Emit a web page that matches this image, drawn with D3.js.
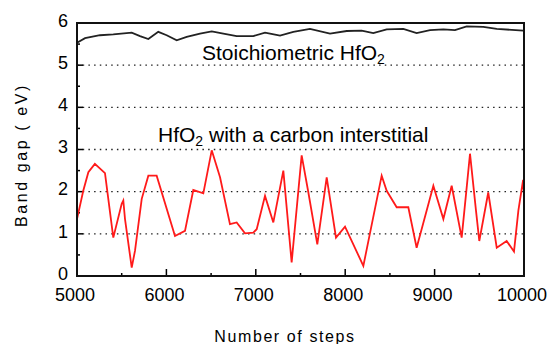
<!DOCTYPE html>
<html>
<head>
<meta charset="utf-8">
<script src="https://cdn.jsdelivr.net/npm/d3@7"></script>
<style>
  html, body { margin: 0; padding: 0; background: #fff; }
  svg { display: block; font-family: "Liberation Sans", Arial, sans-serif; }
</style>
</head>
<body>
<div id="chart"></div>
<script>
// Stoichiometric HfO2 band gap
const stoichSteps = [5000, 5090, 5257, 5406, 5612, 5705, 5798, 5909, 6003, 6115, 6227, 6376, 6507, 6637, 6786, 6972, 7103, 7159, 7271, 7420, 7606, 7830, 8017, 8184, 8314, 8464, 8650, 8799, 8949, 9098, 9228, 9359, 9545, 9695, 9992, 10000];
const stoichGap   = [5.53, 5.64, 5.71, 5.73, 5.77, 5.69, 5.62, 5.79, 5.71, 5.59, 5.67, 5.75, 5.80, 5.75, 5.69, 5.69, 5.77, 5.75, 5.70, 5.79, 5.86, 5.75, 5.81, 5.82, 5.76, 5.85, 5.86, 5.76, 5.83, 5.85, 5.83, 5.92, 5.91, 5.86, 5.82, 5.82];

// HfO2 with a carbon interstitial
const carbonSteps = [5000, 5070, 5127, 5200, 5313, 5406, 5500, 5518, 5537, 5612, 5649, 5724, 5798, 5891, 6096, 6208, 6301, 6413, 6507, 6600, 6711, 6786, 6879, 6972, 7010, 7103, 7196, 7308, 7401, 7513, 7588, 7688, 7793, 7897, 7998, 8203, 8408, 8464, 8576, 8706, 8799, 8986, 9098, 9191, 9303, 9359, 9396, 9463, 9500, 9600, 9695, 9806, 9888, 9937, 9990, 10000];
const carbonGap   = [1.35, 2.02, 2.46, 2.66, 2.44, 0.91, 1.71, 1.79, 1.35, 0.20, 0.60, 1.83, 2.38, 2.38, 0.95, 1.07, 2.04, 1.96, 2.98, 2.34, 1.23, 1.27, 1.01, 1.03, 1.11, 1.90, 1.27, 2.50, 0.32, 2.86, 1.98, 0.75, 2.34, 0.91, 1.17, 0.24, 2.38, 2.02, 1.63, 1.63, 0.67, 2.14, 1.35, 2.14, 0.91, 2.10, 2.90, 1.55, 0.83, 1.98, 0.67, 0.83, 0.58, 1.55, 2.28, 1.95];

const xTicks = [5000, 6000, 7000, 8000, 9000, 10000];
const xMinor = [5500, 6500, 7500, 8500, 9500];
const yTicks = [0, 1, 2, 3, 4, 5, 6];
const yMinor = [0.5, 1.5, 2.5, 3.5, 4.5, 5.5];
const gridLevels = [1, 2, 3, 4, 5];

const W = 549, H = 344;
const M = { top: 23, right: 25, bottom: 68, left: 77 };
const iw = W - M.left - M.right;
const ih = H - M.top - M.bottom;

const svg = d3.select('#chart').append('svg')
  .attr('width', W).attr('height', H);

const g = svg.append('g').attr('transform', `translate(${M.left},${M.top})`);

const x = d3.scaleLinear().domain([5000, 10000]).range([0, iw]);
const y = d3.scaleLinear().domain([0, 6]).range([ih, 0]);

// dotted grid
g.selectAll('.grid').data(gridLevels).enter().append('line')
  .attr('x1', 0).attr('x2', iw)
  .attr('y1', d => y(d)).attr('y2', d => y(d))
  .attr('stroke', '#222')
  .attr('stroke-width', 1.3)
  .attr('stroke-dasharray', '1.5 4.2');

// ticks (inward)
g.selectAll('.xt').data(xTicks).enter().append('line')
  .attr('x1', d => x(d)).attr('x2', d => x(d))
  .attr('y1', ih).attr('y2', ih - 7)
  .attr('stroke', '#000').attr('stroke-width', 1.5);
g.selectAll('.xm').data(xMinor).enter().append('line')
  .attr('x1', d => x(d)).attr('x2', d => x(d))
  .attr('y1', ih).attr('y2', ih - 3)
  .attr('stroke', '#000').attr('stroke-width', 1.5);
g.selectAll('.yt').data(yTicks).enter().append('line')
  .attr('x1', 0).attr('x2', 6)
  .attr('y1', d => y(d)).attr('y2', d => y(d))
  .attr('stroke', '#000').attr('stroke-width', 1.5);
g.selectAll('.ym').data(yMinor).enter().append('line')
  .attr('x1', 0).attr('x2', 3)
  .attr('y1', d => y(d)).attr('y2', d => y(d))
  .attr('stroke', '#000').attr('stroke-width', 1.5);

// tick labels
g.selectAll('.xl').data(xTicks).enter().append('text')
  .attr('x', d => x(d) - 2).attr('y', ih + 24.5)
  .attr('text-anchor', 'middle')
  .attr('font-size', 18)
  .text(d => d);
g.selectAll('.yl').data(yTicks).enter().append('text')
  .attr('x', -9).attr('y', d => y(d) - 2.5)
  .attr('dy', '0.35em')
  .attr('text-anchor', 'end')
  .attr('font-size', 18)
  .text(d => d);

// series
const line = d3.line().x(d => x(d[0])).y(d => y(d[1]));

g.append('path')
  .datum(d3.zip(stoichSteps, stoichGap))
  .attr('d', line)
  .attr('fill', 'none')
  .attr('stroke', '#222')
  .attr('stroke-width', 1.8);

g.append('path')
  .datum(d3.zip(carbonSteps, carbonGap))
  .attr('d', line)
  .attr('fill', 'none')
  .attr('stroke', '#ff1a1a')
  .attr('stroke-width', 1.8);

// frame
g.append('rect')
  .attr('width', iw).attr('height', ih)
  .attr('fill', 'none')
  .attr('stroke', '#111')
  .attr('stroke-width', 2);

// annotations
const t1 = g.append('text')
  .attr('x', 125).attr('y', 37)
  .attr('font-size', 21);
t1.append('tspan').text('Stoichiometric HfO');
t1.append('tspan').attr('font-size', 14).attr('dy', 4).text('2');

const t2 = g.append('text')
  .attr('x', 81).attr('y', 119)
  .attr('font-size', 21);
t2.append('tspan').text('HfO');
t2.append('tspan').attr('font-size', 14).attr('dy', 4).text('2');
t2.append('tspan').attr('dy', -4).text(' with a carbon interstitial');

// axis titles
svg.append('text')
  .attr('x', 285).attr('y', 342)
  .attr('text-anchor', 'middle')
  .attr('font-size', 16)
  .attr('letter-spacing', 1.6)
  .text('Number of steps');

svg.append('text')
  .attr('transform', 'translate(27,155) rotate(-90)')
  .attr('text-anchor', 'middle')
  .attr('font-size', 16)
  .attr('letter-spacing', 2.6)
  .text('Band gap ( eV)');
</script>
</body>
</html>
